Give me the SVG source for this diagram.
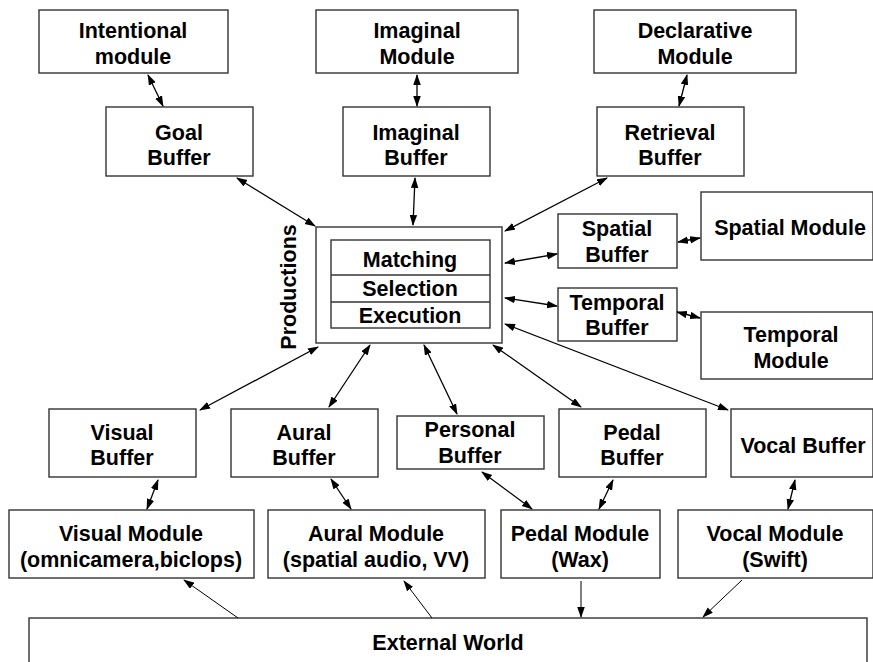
<svg xmlns="http://www.w3.org/2000/svg" width="873" height="662" viewBox="0 0 873 662">
<style>
rect{fill:#fff;stroke:#333;stroke-width:1.4}
text{font-family:"Liberation Sans",Arial,sans-serif;font-weight:bold;font-size:21.5px;text-anchor:middle;fill:#000}
.c line{stroke:#000;stroke-width:1.3}
.c line.t{stroke-width:1}
.b{marker-start:url(#a);marker-end:url(#a)}
.e{marker-end:url(#a)}
</style>
<defs>
<marker id="a" markerUnits="userSpaceOnUse" markerWidth="11" markerHeight="8" refX="10" refY="3.75" orient="auto-start-reverse"><path d="M0,0 L11,3.75 L0,7.5 z" fill="#000"/></marker>
</defs>
<rect width="873" height="662" style="fill:#fff;stroke:none"/>
<g id="intentional"><rect x="39" y="10" width="189" height="63"/><text x="133" y="38">Intentional</text><text x="133" y="64">module</text></g>
<g id="imaginal-module"><rect x="316" y="10" width="202" height="63"/><text x="417" y="38">Imaginal</text><text x="417" y="64">Module</text></g>
<g id="declarative"><rect x="594" y="10" width="202" height="63"/><text x="695" y="38">Declarative</text><text x="695" y="64">Module</text></g>
<g id="goal"><rect x="106" y="107" width="147" height="69"/><text x="179" y="140">Goal</text><text x="179" y="165">Buffer</text></g>
<g id="imaginal-buffer"><rect x="343" y="107" width="147" height="69"/><text x="416" y="140">Imaginal</text><text x="416" y="165">Buffer</text></g>
<g id="retrieval"><rect x="597" y="107" width="147" height="69"/><text x="670" y="140">Retrieval</text><text x="670" y="165">Buffer</text></g>
<g id="productions"><rect x="316" y="227" width="186" height="116"/><rect x="331" y="240" width="159" height="88"/><line x1="331" y1="275" x2="490" y2="275" stroke="#333" stroke-width="1.4"/><line x1="331" y1="302" x2="490" y2="302" stroke="#333" stroke-width="1.4"/><text x="410" y="267">Matching</text><text x="410" y="296">Selection</text><text x="410" y="323">Execution</text><text transform="translate(296,287) rotate(-90)">Productions</text></g>
<g id="spatial-buffer"><rect x="558" y="214" width="119" height="54"/><text x="617" y="236">Spatial</text><text x="617" y="262">Buffer</text></g>
<g id="spatial-module"><rect x="701" y="192" width="172" height="68"/><text x="790" y="235">Spatial Module</text></g>
<g id="temporal-buffer"><rect x="558" y="288" width="119" height="53"/><text x="617" y="310">Temporal</text><text x="617" y="335">Buffer</text></g>
<g id="temporal-module"><rect x="701" y="312" width="172" height="67"/><text x="791" y="342">Temporal</text><text x="791" y="368">Module</text></g>
<g id="visual-buffer"><rect x="49" y="409" width="147" height="68"/><text x="122" y="440">Visual</text><text x="122" y="465">Buffer</text></g>
<g id="aural-buffer"><rect x="231" y="409" width="147" height="68"/><text x="304" y="440">Aural</text><text x="304" y="465">Buffer</text></g>
<g id="personal-buffer"><rect x="397" y="416" width="147" height="53"/><text x="470" y="437">Personal</text><text x="470" y="463">Buffer</text></g>
<g id="pedal-buffer"><rect x="559" y="409" width="147" height="68"/><text x="632" y="440">Pedal</text><text x="632" y="465">Buffer</text></g>
<g id="vocal-buffer"><rect x="731" y="409" width="142" height="68"/><text x="803" y="453">Vocal Buffer</text></g>
<g id="visual-module"><rect x="9" y="510" width="245" height="68"/><text x="131" y="541">Visual Module</text><text x="131" y="567">(omnicamera,biclops)</text></g>
<g id="aural-module"><rect x="268" y="510" width="217" height="68"/><text x="376" y="541">Aural Module</text><text x="376" y="567">(spatial audio, VV)</text></g>
<g id="pedal-module"><rect x="501" y="510" width="159" height="68"/><text x="580" y="541">Pedal Module</text><text x="580" y="567">(Wax)</text></g>
<g id="vocal-module"><rect x="678" y="510" width="195" height="68"/><text x="775" y="541">Vocal Module</text><text x="775" y="567">(Swift)</text></g>
<g id="external-world"><rect x="29" y="618" width="838" height="60"/><text x="448" y="650">External World</text></g>
<g class="c" id="connectors">
<line class="b" x1="148" y1="75" x2="163" y2="106"/>
<line class="b" x1="417" y1="75" x2="417" y2="106"/>
<line class="b" x1="687" y1="75" x2="679" y2="106"/>
<line class="b" x1="237" y1="178" x2="315" y2="226"/>
<line class="b" x1="415" y1="178" x2="413" y2="225"/>
<line class="b" x1="607" y1="178" x2="505" y2="231"/>
<line class="b" x1="505" y1="263" x2="557" y2="254"/>
<line class="b" x1="505" y1="298" x2="557" y2="306"/>
<line class="b" x1="678" y1="242" x2="700" y2="238"/>
<line class="b" x1="677" y1="312" x2="700" y2="318"/>
<line class="b" x1="505" y1="324" x2="728" y2="410"/>
<line class="b" x1="318" y1="347" x2="200" y2="410"/>
<line class="b" x1="370" y1="345" x2="329" y2="407"/>
<line class="b" x1="424" y1="345" x2="457" y2="414"/>
<line class="b" x1="493" y1="345" x2="581" y2="407"/>
<line class="b" x1="158" y1="480" x2="147" y2="509"/>
<line class="b" x1="331" y1="479" x2="351" y2="509"/>
<line class="b" x1="482" y1="472" x2="532" y2="509"/>
<line class="b" x1="613" y1="480" x2="599" y2="509"/>
<line class="b" x1="795" y1="480" x2="788" y2="509"/>
<line class="e t" x1="238" y1="618" x2="184" y2="580"/>
<line class="e t" x1="432" y1="618" x2="404" y2="581"/>
<line class="e t" x1="581" y1="581" x2="581" y2="617"/>
<line class="e t" x1="742" y1="580" x2="703" y2="617"/>
</g>
</svg>
